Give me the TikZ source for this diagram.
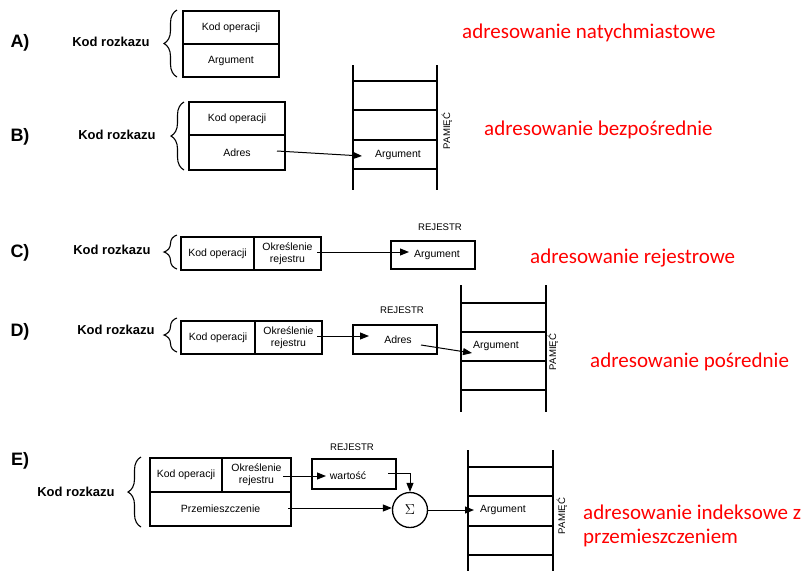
\documentclass[tikz,border=0pt]{standalone}
\usepackage{fontspec}
\setmainfont{Liberation Sans}
\newfontfamily\redfont{Carlito}
\usetikzlibrary{arrows.meta,decorations.pathreplacing}
\begin{document}
\begin{tikzpicture}[x=1pt,y=-1pt,
  cell/.style={draw, line width=1.3pt, inner sep=0pt, outer sep=0pt, font=\fontsize{10.5}{12}\selectfont, align=center},
  lbl/.style={font=\bfseries\fontsize{18}{20}\selectfont},
  kod/.style={font=\bfseries\fontsize{13}{15}\selectfont},
  note/.style={font=\redfont\fontsize{21}{25}\selectfont, text=red, anchor=west, inner sep=0pt},
  mem/.style={line width=1.3pt},
  pam/.style={rotate=90, font=\fontsize{9.6}{11}\selectfont, inner sep=0pt},
  rej/.style={font=\fontsize{9.6}{11}\selectfont, inner sep=0pt},
  txt/.style={font=\fontsize{10.5}{12}\selectfont, inner sep=0pt},
  arr/.style={line width=1pt, -{Triangle[length=9pt,width=7pt]}},
  br/.style={line width=1.1pt, decorate, decoration={brace, amplitude=13pt}}
]
\useasboundingbox (0,0) rectangle (807,571);

% ---------- A ----------
\node[lbl] (la) at (20,43) {A)};
\node[kod] (ka) at (111,42) {Kod rozkazu};
\draw[br] (177,77) -- (177,10);
\node[cell, minimum width=96pt, minimum height=33pt] (aK) at (231,27.5) {Kod operacji};
\node[cell, minimum width=96pt, minimum height=33pt] (aA) at (231,60.5) {Argument};
\node[note] (na) at (462,33) {adresowanie natychmiastowe};

% ---------- B ----------
\node[lbl] (lb) at (20,137) {B)};
\node[kod] (kb) at (117,135) {Kod rozkazu};
\draw[br] (184,170) -- (184,102);
\node[cell, minimum width=96pt, minimum height=33pt] (bK) at (237,118.5) {Kod operacji};
\node[cell, minimum width=96pt, minimum height=35pt] (bA) at (237,152.5) {Adres};
\draw[mem] (353,65) -- (353,190) (437,65) -- (437,190);
\foreach \yy in {81,110,140,169} \draw[mem] (353,\yy) -- (437,\yy);
\node[txt] (bM) at (398,155) {Argument};
\node[pam] (bP) at (447,131) {PAMIĘĆ};
\coordinate (bS) at (277,151);
\coordinate (bT) at (362,156);
\draw[arr] (bS) -- (bT);
\node[note] (nb) at (484,130) {adresowanie bezpośrednie};

% ---------- C ----------
\node[lbl] (lc) at (20,253) {C)};
\node[kod] (kc) at (112,250) {Kod rozkazu};
\draw[br] (177,269) -- (177,235);
\node[cell, minimum width=73pt, minimum height=33pt] (cK) at (217.5,253.5) {Kod operacji};
\node[cell, minimum width=67pt, minimum height=33pt] (cR) at (287.5,253.5) {Określenie\\rejestru};
\node[rej] (cJ) at (440,227) {REJESTR};
\node[cell, minimum width=84pt, minimum height=28pt, text width=84pt] (cG) at (433,255) {\hspace*{8pt}Argument};
\coordinate (cS) at (317,252);
\coordinate (cT) at (409,252);
\draw[arr] (cS) -- (cT);
\node[note] (nc) at (530,258) {adresowanie rejestrowe};

% ---------- D ----------
\node[lbl] (ld) at (20,332) {D)};
\node[kod] (kd) at (116,330) {Kod rozkazu};
\draw[br] (177,352) -- (177,318);
\node[cell, minimum width=74pt, minimum height=33pt] (dK) at (218,337.5) {Kod operacji};
\node[cell, minimum width=67pt, minimum height=33pt] (dR) at (288.5,337.5) {Określenie\\rejestru};
\node[rej] (dJ) at (402,310) {REJESTR};
\node[cell, minimum width=84pt, minimum height=29pt] (dG) at (395,339.5) {};
\node[txt] (dA) at (398,340) {Adres};
\coordinate (dS) at (317,336);
\coordinate (dT) at (369,336);
\draw[arr] (dS) -- (dT);
\draw[mem] (461,285) -- (461,412) (546,285) -- (546,412);
\foreach \yy in {303,332,361,390} \draw[mem] (461,\yy) -- (546,\yy);
\node[txt] (dM) at (496,346) {Argument};
\node[pam] (dP) at (553,352) {PAMIĘĆ};
\coordinate (dS2) at (421,345);
\coordinate (dT2) at (472,353);
\draw[arr] (dS2) -- (dT2);
\node[note] (nd) at (590,362) {adresowanie pośrednie};

% ---------- E ----------
\node[lbl] (le) at (20,461) {E)};
\node[kod] (ke) at (76,492) {Kod rozkazu};
\draw[br] (141,527) -- (141,457);
\node[cell, minimum width=72pt, minimum height=34pt] (eK) at (186,475) {Kod operacji};
\node[cell, minimum width=69pt, minimum height=34pt] (eR) at (256.5,475) {Określenie\\rejestru};
\node[cell, minimum width=141pt, minimum height=34pt] (eP) at (220.5,509) {Przemieszczenie};
\draw[line width=2.2pt] (eP.north west) -- (eP.north east);
\node[rej] (eJ) at (352,447) {REJESTR};
\node[cell, minimum width=84pt, minimum height=30pt] (eG) at (354,474) {};
\node[txt] (eW) at (348,476) {wartość};
\node[draw, circle, line width=1.3pt, minimum size=35pt, inner sep=0pt, font=\fontsize{14}{16}\selectfont] (sg) at (410,510) {$\Sigma$};
\coordinate (eS) at (283,476);
\coordinate (eT) at (326,476);
\draw[arr] (eS) -- (eT);
\coordinate (eS2) at (388,473);
\draw[arr] (eS2) -| (sg.north);
\coordinate (eS3) at (288,508);
\draw[arr] (eS3) -- (sg.west |- eS3);
\draw[mem] (468,450) -- (468,571) (553,450) -- (553,571);
\foreach \yy in {467,496,526,555} \draw[mem] (468,\yy) -- (553,\yy);
\node[txt] (eM) at (503,510) {Argument};
\node[pam] (eQ) at (562,516) {PAMIĘĆ};
\coordinate (eT2) at (474,510);
\draw[arr] (sg.east) -- (eT2);
\node[note] (ne1) at (583,512) {adresowanie indeksowe z};
\node[note] (ne2) at (583,538) {przemieszczeniem};
\end{tikzpicture}
\end{document}
